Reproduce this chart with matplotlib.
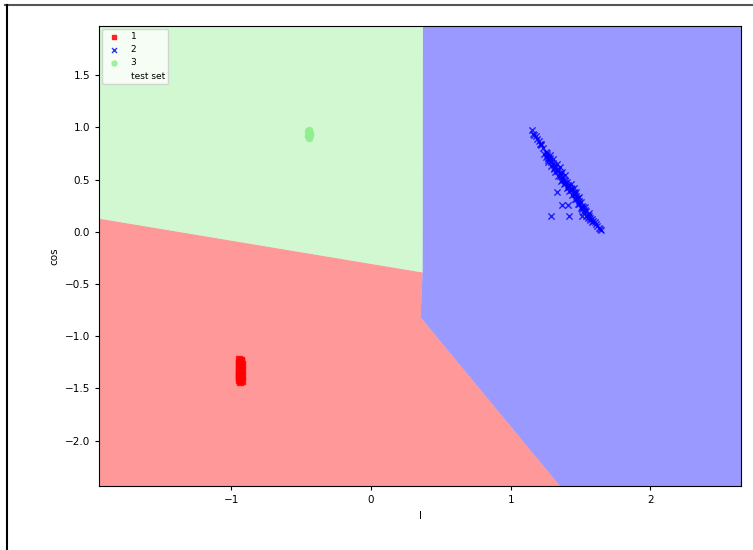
import numpy as np
import matplotlib.pyplot as plt
from matplotlib.lines import Line2D

# class 1 (red squares)
red_x = [-0.94, -0.93, -0.935, -0.945, -0.925, -0.94, -0.93, -0.935, -0.945, -0.925, -0.94, -0.93,
         -0.935, -0.94, -0.93, -0.925, -0.945, -0.935, -0.93, -0.94, -0.925, -0.935, -0.943, -0.93]
red_y = [-1.22, -1.23, -1.25, -1.26, -1.27, -1.28, -1.29, -1.30, -1.31, -1.32, -1.33, -1.34,
         -1.35, -1.36, -1.37, -1.38, -1.39, -1.40, -1.41, -1.42, -1.43, -1.435, -1.38, -1.24]

# class 2 (blue crosses)
blue_x = [1.15, 1.17, 1.19, 1.21, 1.23, 1.25, 1.27, 1.29, 1.31, 1.33, 1.35, 1.37, 1.39,
          1.41, 1.43, 1.45, 1.47, 1.49, 1.51, 1.53, 1.55, 1.57, 1.59, 1.61, 1.63, 1.648,
          1.24, 1.27, 1.29, 1.31, 1.32, 1.34, 1.36, 1.38, 1.40, 1.42, 1.44, 1.46, 1.48, 1.50, 1.52, 1.54,
          1.28, 1.30, 1.33, 1.35, 1.37, 1.39, 1.43, 1.45, 1.47, 1.49, 1.53, 1.56,
          1.29, 1.42, 1.51, 1.37, 1.41, 1.33, 1.18, 1.22, 1.26, 1.58,
          1.16, 1.20, 1.22, 1.26, 1.28, 1.30, 1.32, 1.34, 1.36, 1.38, 1.40, 1.42, 1.44,
          1.46, 1.48, 1.50, 1.52, 1.54, 1.56, 1.58, 1.60, 1.62, 1.64,
          1.25, 1.27, 1.31, 1.33, 1.35, 1.37, 1.39, 1.41, 1.43, 1.45, 1.47, 1.49, 1.51, 1.55, 1.57]
blue_y = [0.97, 0.93, 0.89, 0.84, 0.80, 0.76, 0.71, 0.67, 0.64, 0.60, 0.56, 0.52, 0.49,
          0.45, 0.42, 0.38, 0.34, 0.29, 0.25, 0.21, 0.16, 0.13, 0.10, 0.07, 0.04, 0.02,
          0.74, 0.69, 0.63, 0.60, 0.57, 0.53, 0.49, 0.46, 0.42, 0.39, 0.35, 0.31, 0.27, 0.23, 0.19, 0.15,
          0.73, 0.70, 0.65, 0.62, 0.57, 0.54, 0.46, 0.42, 0.38, 0.33, 0.24, 0.18,
          0.15, 0.15, 0.15, 0.26, 0.26, 0.38, 0.92, 0.83, 0.75, 0.09,
          0.94, 0.87, 0.84, 0.73, 0.71, 0.66, 0.62, 0.59, 0.55, 0.50, 0.48, 0.43, 0.41,
          0.36, 0.32, 0.28, 0.24, 0.20, 0.15, 0.12, 0.09, 0.05, 0.03,
          0.72, 0.67, 0.61, 0.58, 0.53, 0.50, 0.47, 0.43, 0.40, 0.36, 0.31, 0.27, 0.22, 0.13, 0.11]

# class 3 (light green circles)
green_x = [-0.445, -0.44, -0.45, -0.435, -0.445, -0.44, -0.45, -0.44, -0.445, -0.435, -0.44, -0.445]
green_y = [0.90, 0.91, 0.92, 0.93, 0.94, 0.95, 0.96, 0.97, 0.925, 0.945, 0.935, 0.955]

# held-out samples (drawn without fill)
test_x = [-0.935, 1.40, -0.44]
test_y = [-1.30, 0.47, 0.93]

# decision boundaries of the classifier
rg_x = [-1.943, 0.370]            # red / green edge
rg_y = [0.125, -0.390]
gb_x = 0.375                      # green / blue edge (vertical)
rb_x = [0.370, 0.356, 1.350]      # red / blue edge
rb_y = [-0.390, -0.820, -2.430]

class_labels = ['1', '2', '3']
colors = ['red', 'blue', 'lightgreen']
markers = ['s', 'x', 'o']

fig = plt.figure(figsize=(7.53, 5.5), dpi=100)
ax = fig.add_axes([99 / 753, 1 - 486 / 550, 642 / 753, 460 / 550])

all_x = red_x + blue_x + green_x
all_y = red_y + blue_y + green_y
x_min, x_max = min(all_x) - 1, max(all_x) + 1
y_min, y_max = min(all_y) - 1, max(all_y) + 1

# regions: extend edges past the plot limits and let the axes clip them
L, R, T, B = -5.0, 5.0, 5.0, -5.0
slope = (rg_y[1] - rg_y[0]) / (rg_x[1] - rg_x[0])
yL = rg_y[0] + slope * (L - rg_x[0])
dslope = (rb_y[2] - rb_y[1]) / (rb_x[2] - rb_x[1])
xB = rb_x[1] + (B - rb_y[1]) / dslope

green_poly = ([L, rg_x[1], gb_x, L], [yL, rg_y[1], T, T])
red_poly = ([L, rb_x[0], rb_x[1], xB, L], [yL, rb_y[0], rb_y[1], B, B])
blue_poly = ([gb_x, R, R, xB, rb_x[1], rb_x[0]], [T, T, B, B, rb_y[1], rb_y[0]])
for (px, py), c in zip([red_poly, blue_poly, green_poly], colors):
    ax.fill(px, py, color=c, alpha=0.4, lw=0)

for xs, ys, c, m, lab in zip([red_x, blue_x, green_x], [red_y, blue_y, green_y],
                             colors, markers, class_labels):
    ax.scatter(xs, ys, c=c, marker=m, s=20, alpha=0.8, label=lab, linewidths=1)

ax.scatter(test_x, test_y, facecolors='none', edgecolors='none', s=30, label='test set')

ax.set_xlim(x_min, x_max)
ax.set_ylim(y_min, y_max)
ax.set_xticks([-1, 0, 1, 2])
ax.set_yticks([-2.0, -1.5, -1.0, -0.5, 0.0, 0.5, 1.0, 1.5])
ax.tick_params(labelsize=7.5, length=3)
ax.set_xlabel('l', fontsize=7.5)
ax.set_ylabel('cos', fontsize=7.5)
ax.legend(loc='upper left', fontsize=6.5, labelspacing=0.45, markerscale=0.8,
          handletextpad=0.8, borderaxespad=0.3)

# screenshot border on top and left
fig.add_artist(Line2D([5 / 753, 1], [1 - 4.5 / 550, 1 - 4.5 / 550], color='#555555', lw=1.5))
fig.add_artist(Line2D([7 / 753, 7 / 753], [0, 1 - 4.5 / 550], color='black', lw=1.5))

fig.savefig('out.png', dpi=100)
